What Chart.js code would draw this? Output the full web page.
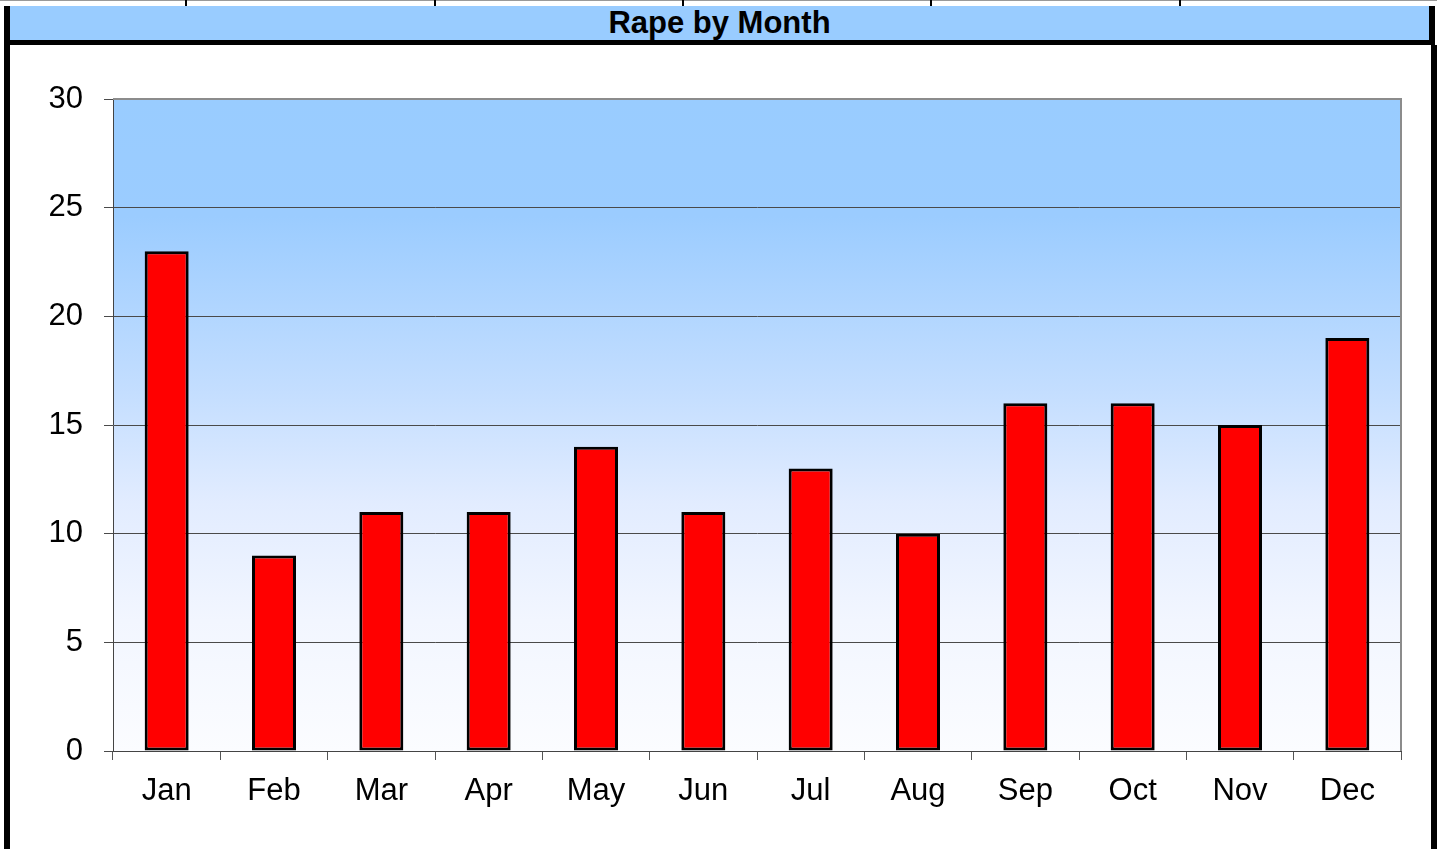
<!DOCTYPE html>
<html>
<head>
<meta charset="utf-8">
<script src="https://cdn.jsdelivr.net/npm/chart.js@4.4.1/dist/chart.umd.min.js"></script>
<style>
  html, body { margin: 0; padding: 0; background: #fff; }
  #wrap { position: relative; width: 1437px; height: 849px; overflow: hidden; font-family: "Liberation Sans", Arial, sans-serif; }
  .topline { position: absolute; left: 0; top: 0; width: 1437px; height: 1px; background: #999; }
  .div { position: absolute; top: 0; width: 2px; height: 7px; background: #000; }
  #titlebar { position: absolute; left: 4px; top: 6px; width: 1419px; height: 34px; background: #99CCFF;
    border-left: 6px solid #000; border-right: 6px solid #000; border-bottom: 5px solid #000;
    text-align: center; font-weight: bold; font-size: 31px; line-height: 34px; color: #000; }
  .lb { position: absolute; left: 4px; top: 45px; width: 6px; height: 804px; background: #000; }
  .rb { position: absolute; left: 1431px; top: 45px; width: 6px; height: 804px; background: #000; }
  #c { position: absolute; left: 0; top: 0; }
</style>
</head>
<body>
<div id="wrap">
  <div class="topline"></div>
  <div class="div" style="left:185px"></div>
  <div class="div" style="left:434px"></div>
  <div class="div" style="left:682px"></div>
  <div class="div" style="left:930px"></div>
  <div class="div" style="left:1179px"></div>
  <div id="titlebar">Rape by Month</div>
  <div class="lb"></div>
  <div class="rb"></div>
  <canvas id="c" width="1437" height="849"></canvas>
</div>
<script>
const months = ["Jan","Feb","Mar","Apr","May","Jun","Jul","Aug","Sep","Oct","Nov","Dec"];
const rapeCounts = [23, 9, 11, 11, 14, 11, 13, 10, 16, 16, 15, 19];
const yMin = 0, yMax = 30, yStep = 5;

const bgPlugin = {
  id: 'plotBg',
  beforeDraw(chart) {
    const {ctx, chartArea: a} = chart;
    const g = ctx.createLinearGradient(0, a.top, 0, a.bottom);
    g.addColorStop(0, '#99CCFF');
    g.addColorStop(0.18, '#9BCCFF');
    g.addColorStop(0.45, '#C4DEFF');
    g.addColorStop(0.62, '#E2ECFF');
    g.addColorStop(0.8, '#F2F6FF');
    g.addColorStop(1, '#FBFCFF');
    ctx.save();
    ctx.fillStyle = g;
    ctx.fillRect(a.left, a.top, a.right - a.left, a.bottom - a.top);
    ctx.restore();
  },
  afterDraw(chart) {
    const {ctx, chartArea: a} = chart;
    ctx.save();
    ctx.strokeStyle = '#8c8c8c';
    ctx.lineWidth = 2;
    ctx.beginPath();
    ctx.moveTo(a.left, a.top); ctx.lineTo(a.right, a.top); ctx.lineTo(a.right, a.bottom);
    ctx.stroke();
    ctx.restore();
  }
};

Chart.defaults.font.family = '"Liberation Sans", Arial, sans-serif';
Chart.defaults.color = '#000';

new Chart(document.getElementById('c'), {
  type: 'bar',
  data: {
    labels: months,
    datasets: [{
      data: rapeCounts,
      backgroundColor: '#FF0000',
      borderColor: '#000',
      borderWidth: 3,
      borderSkipped: false,
      barPercentage: 0.41,
      categoryPercentage: 1.0
    }]
  },
  options: {
    responsive: false,
    animation: false,
    layout: { padding: { left: 0, top: 99, right: 36, bottom: 0 } },
    plugins: { legend: { display: false }, tooltip: { enabled: false }, title: { display: false } },
    scales: {
      x: {
        grid: { display: true, drawOnChartArea: false, drawTicks: true, tickLength: 9, color: '#555', offset: true },
        border: { display: true, color: '#444', width: 1 },
        ticks: { font: { size: 31 }, color: '#000', padding: 13, maxRotation: 0, autoSkip: false },
        afterFit(s) { s.height = 98; }
      },
      y: {
        min: yMin, max: yMax,
        grid: { color: '#4a4a4a', lineWidth: 1, drawTicks: true, tickLength: 9 },
        border: { display: true, color: '#444', width: 1 },
        ticks: { stepSize: yStep, font: { size: 31 }, color: '#000', padding: 21 },
        afterFit(s) { s.width = 113; }
      }
    }
  },
  plugins: [bgPlugin]
});
</script>
</body>
</html>
